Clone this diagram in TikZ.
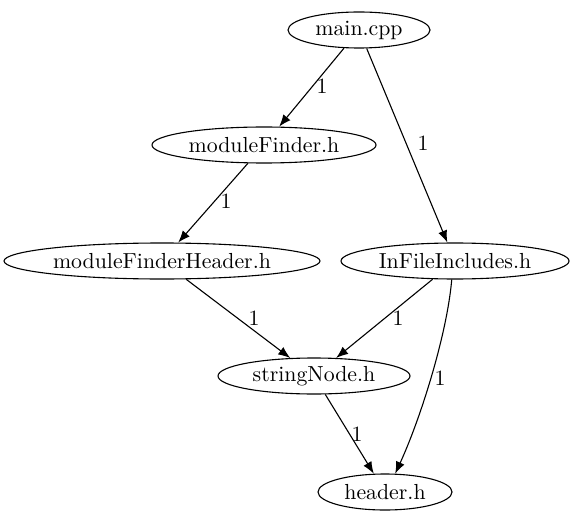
\documentclass[tikz,border=0pt]{standalone}
\usetikzlibrary{shapes.geometric,arrows.meta}
\begin{document}
\begin{tikzpicture}[x=0.5pt,y=-0.5pt,
  every node/.style={font=\fontsize{10.9}{13}\selectfont},
  file/.style={draw,ellipse,inner sep=0pt,minimum height=18pt,line width=0.55pt},
  edge/.style={line width=0.55pt,-{Latex[length=6pt,width=4.6pt]}},
  lbl/.style={inner sep=0pt}]
\useasboundingbox (0,0) rectangle (576,523);
\node[file,minimum width=71pt] (main) at (359,30) {main.cpp};
\node[file,minimum width=112pt] (mf) at (264,145) {moduleFinder.h};
\node[file,minimum width=158pt] (mfh) at (162,261) {moduleFinderHeader.h};
\node[file,minimum width=114pt] (ifi) at (455,261) {InFileIncludes.h};
\node[file,minimum width=96pt] (sn) at (314,376) {stringNode.h};
\node[file,minimum width=67pt] (hdr) at (385,492) {header.h};
\draw[edge] (main) -- (mf);
\draw[edge] (main) -- (ifi);
\draw[edge] (mf) -- (mfh);
\draw[edge] (mfh) -- (sn);
\draw[edge] (ifi) -- (sn);
\draw[edge] (ifi.-100) .. controls (447,335) and (420,420) .. (hdr.61);
\draw[edge] (sn) -- (hdr);
\node[lbl] (l1) at (322,86) {1};
\node[lbl] (l2) at (423,143) {1};
\node[lbl] (l3) at (226,201) {1};
\node[lbl] (l4) at (254,318) {1};
\node[lbl] (l5) at (398,318) {1};
\node[lbl] (l6) at (440,378) {1};
\node[lbl] (l7) at (357,434) {1};
\end{tikzpicture}
\end{document}
